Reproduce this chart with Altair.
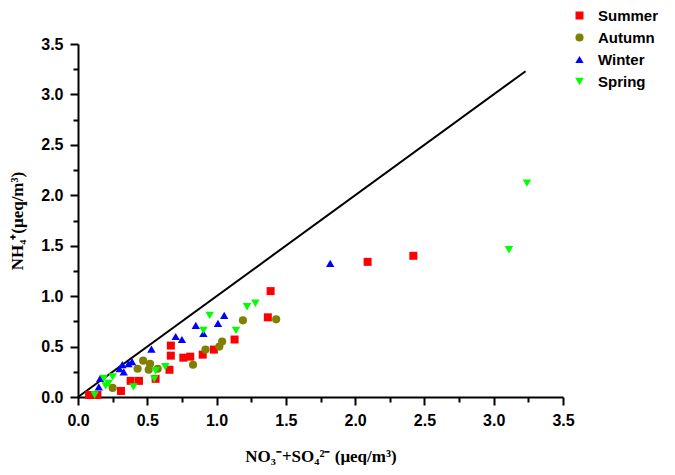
import altair as alt
import pandas as pd

seasons = ["Summer", "Autumn", "Winter", "Spring"]
colors = ["#FF0000", "#808000", "#0000FF", "#00FF00"]
shapes = ["square", "circle", "triangle-up", "triangle-down"]
sizes = [64, 72, 100, 100]

summer_x = [0.08, 0.14, 0.31, 0.38, 0.44, 0.56, 0.66, 0.67, 0.67, 0.76, 0.81, 0.90, 0.98, 1.13, 1.37, 1.39, 2.09, 2.42]
summer_y = [0.02, 0.02, 0.06, 0.16, 0.16, 0.18, 0.27, 0.41, 0.51, 0.39, 0.40, 0.42, 0.47, 0.57, 0.79, 1.05, 1.34, 1.40]

autumn_x = [0.25, 0.43, 0.47, 0.51, 0.52, 0.575, 0.83, 0.92, 1.02, 1.04, 1.19, 1.43]
autumn_y = [0.09, 0.28, 0.36, 0.27, 0.33, 0.28, 0.32, 0.47, 0.50, 0.55, 0.76, 0.77]

winter_x = [0.15, 0.16, 0.30, 0.32, 0.33, 0.365, 0.39, 0.53, 0.705, 0.75, 0.85, 0.905, 1.01, 1.055, 1.82]
winter_y = [0.10, 0.185, 0.28, 0.32, 0.25, 0.33, 0.35, 0.475, 0.60, 0.57, 0.71, 0.63, 0.73, 0.81, 1.325]

spring_x = [0.12, 0.185, 0.20, 0.22, 0.25, 0.40, 0.55, 0.56, 0.63, 0.905, 0.95, 1.14, 1.22, 1.28, 3.11, 3.24]
spring_y = [0.02, 0.185, 0.11, 0.135, 0.20, 0.10, 0.18, 0.26, 0.30, 0.66, 0.81, 0.66, 0.895, 0.93, 1.46, 2.12]

line_x = [0.0, 3.23]
line_y = [0.0, 3.23]

tick_values = [0, 0.25, 0.5, 0.75, 1.0, 1.25, 1.5, 1.75, 2.0, 2.25, 2.5, 2.75, 3.0, 3.25, 3.5]

rows = []
for name, xs, ys in [("Summer", summer_x, summer_y), ("Autumn", autumn_x, autumn_y),
                     ("Winter", winter_x, winter_y), ("Spring", spring_x, spring_y)]:
    for a, b in zip(xs, ys):
        rows.append({"season": name, "x": a, "y": b})
df = pd.DataFrame(rows)
line_df = pd.DataFrame({"x": line_x, "y": line_y})

major = "datum.value % 0.5 === 0"
common_axis = dict(
    values=tick_values,
    labelExpr="datum.value % 0.5 === 0 ? format(datum.value, '.1f') : ''",
    labelOverlap=False,
    labelFlush=False,
    tickSize={"condition": {"test": major, "value": 8}, "value": 5},
    tickColor="black", tickWidth=2,
    domainColor="black", domainWidth=2,
    grid=False,
    labelFont="Liberation Sans", labelFontWeight="bold", labelFontSize=16, labelColor="black",
    labelPadding=7,
    titleFont="Liberation Serif", titleFontWeight="bold", titleColor="black",
)

xscale = alt.Scale(domain=[0, 3.5], nice=False, zero=False)
yscale = alt.Scale(domain=[0, 3.5], nice=False, zero=False)

xenc = alt.X("x:Q", scale=xscale,
             axis=alt.Axis(title="NO₃⁻+SO₄²⁻ (μeq/m³)", titlePadding=20, titleFontSize=17,
                           **common_axis))
yenc = alt.Y("y:Q", scale=yscale,
             axis=alt.Axis(title="NH₄⁺(μeq/m³)", titlePadding=14, titleFontSize=17,
                           **common_axis))

line = alt.Chart(line_df).mark_line(color="black", strokeWidth=2).encode(x=xenc, y=yenc)

points = alt.Chart(df).mark_point(filled=True, opacity=1, strokeWidth=0).encode(
    x=xenc,
    y=yenc,
    color=alt.Color("season:N", sort=seasons,
                    scale=alt.Scale(domain=seasons, range=colors),
                    legend=alt.Legend(title=None, orient="none", legendX=494, legendY=-36,
                                      symbolSize=60, labelOffset=11, rowPadding=6,
                                      labelFont="Liberation Sans", labelFontWeight="bold",
                                      labelFontSize=15, labelColor="black", padding=0)),
    shape=alt.Shape("season:N", sort=seasons,
                    scale=alt.Scale(domain=seasons, range=shapes)),
    size=alt.Size("season:N", scale=alt.Scale(domain=seasons, range=sizes), legend=None),
    order=alt.Order("order:Q"),
).transform_calculate(
    order="indexof(['Summer','Autumn','Winter','Spring'], datum.season)"
)

chart = alt.layer(line, points).properties(
    width=485, height=353,
    padding={"left": 70, "top": 36, "right": 104, "bottom": 68},
    autosize=alt.AutoSizeParams(type="none"),
    background="white",
).configure_view(stroke=None)

chart.save("out.html", embed_options={"renderer": "svg", "actions": False})
